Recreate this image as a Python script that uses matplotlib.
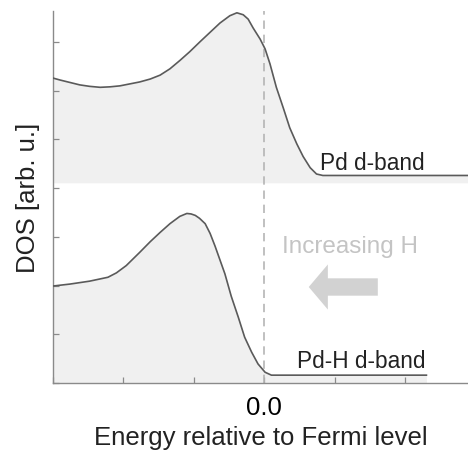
import matplotlib
matplotlib.use("Agg")
import matplotlib.pyplot as plt

plt.rcParams["font.family"] = ["Liberation Sans", "DejaVu Sans"]

# Pd d-band DOS (upper curve, sits on its own offset baseline)
pd_energy = [-3.00, -2.90, -2.76, -2.62, -2.48, -2.33, -2.19, -2.05, -1.91, -1.77,
             -1.62, -1.48, -1.34, -1.20, -1.06, -0.91, -0.77, -0.63, -0.49, -0.39,
             -0.30, -0.23, -0.16, -0.06, 0.01, 0.08, 0.17, 0.27, 0.36, 0.46,
             0.55, 0.65, 0.74, 0.83, 2.89]
pd_dos = [6.26, 6.22, 6.17, 6.12, 6.09, 6.07, 6.08, 6.10, 6.14, 6.18,
          6.24, 6.32, 6.45, 6.62, 6.80, 7.01, 7.20, 7.39, 7.54, 7.60,
          7.56, 7.47, 7.29, 7.06, 6.86, 6.55, 6.07, 5.64, 5.24, 4.91,
          4.65, 4.42, 4.29, 4.26, 4.26]
pd_base = 4.11

# Pd-H d-band DOS (lower curve)
pdh_energy = [-3.00, -2.76, -2.48, -2.22, -2.10, -1.96, -1.77, -1.62, -1.48, -1.34,
              -1.20, -1.10, -1.04, -0.98, -0.92, -0.84, -0.77, -0.70, -0.56, -0.47,
              -0.37, -0.28, -0.18, -0.09, 0.01, 0.10, 2.30]
pdh_dos = [1.99, 2.03, 2.09, 2.17, 2.26, 2.41, 2.68, 2.90, 3.09, 3.27,
           3.42, 3.48, 3.47, 3.44, 3.38, 3.27, 3.07, 2.81, 2.24, 1.78,
           1.35, 0.94, 0.63, 0.39, 0.22, 0.16, 0.16]

xticks = [-3, -2, -1, 0, 1, 2]
xticklabels = ["", "", "", "0.0", "", ""]
yticks = [0, 1, 2, 3, 4, 5, 6, 7]

line_c = "#5a5a5a"
fill_c = "#f0f0f0"
axis_c = "#8a8a8a"

fig = plt.figure(figsize=(4.68, 4.56), dpi=100)
ax = fig.add_axes([0.1132, 0.158, 0.8868, 0.816])

ax.fill_between(pd_energy, pd_base, pd_dos, color=fill_c, lw=0, zorder=1)
ax.plot(pd_energy, pd_dos, color=line_c, lw=1.2, solid_joinstyle="round", zorder=3)
ax.fill_between(pdh_energy, 0, pdh_dos, color=fill_c, lw=0, zorder=1)
ax.plot(pdh_energy, pdh_dos, color=line_c, lw=1.2, solid_joinstyle="round", zorder=3)

# Fermi level
ax.axvline(0, color="#b5b5b5", lw=1.2, ls=(0, (5, 3.5)), zorder=2)

ax.text(2.28, 4.39, "Pd d-band", fontsize=16.3, ha="right", va="baseline", color="#222222")
ax.text(2.28, 0.33, "Pd-H d-band", fontsize=16.3, ha="right", va="baseline", color="#222222")
ax.text(1.21, 2.69, "Increasing H", fontsize=17.5, ha="center", va="baseline", color="#c4c4c4")
ax.annotate("", xy=(0.63, 1.97), xytext=(1.61, 1.97),
            arrowprops=dict(arrowstyle="simple,head_length=1.1,head_width=2.6,tail_width=1.0",
                            mutation_scale=12.5, color="#d2d2d2", lw=0,
                            shrinkA=0, shrinkB=0))

ax.set_xlim(-3, 2.89)
ax.set_ylim(0, 7.64)
ax.set_xticks(xticks)
ax.set_xticklabels(xticklabels, fontsize=18.5)
ax.set_yticks(yticks)
ax.set_yticklabels([])
ax.tick_params(axis="both", direction="in", length=4, width=0.9, color=axis_c)
ax.tick_params(axis="x", pad=9)
for side in ["top", "right"]:
    ax.spines[side].set_visible(False)
for side in ["left", "bottom"]:
    ax.spines[side].set_color(axis_c)
    ax.spines[side].set_linewidth(1.0)

ax.set_xlabel("Energy relative to Fermi level", fontsize=18.5, labelpad=4, color="#222222")
ax.set_ylabel("DOS [arb. u.]", fontsize=18.5, labelpad=6, color="#222222")

fig.savefig("out.png", dpi=100)
